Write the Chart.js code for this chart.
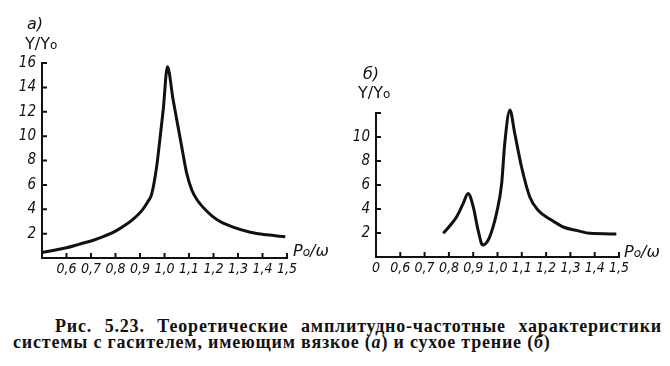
<!DOCTYPE html>
<html>
<head>
<meta charset="utf-8">
<script src="https://cdn.jsdelivr.net/npm/chart.js@4"></script>
<style>
  body { margin: 0; background: #fff; }
  #wrap { position: relative; width: 670px; height: 366px; overflow: hidden; background: #fff; }
  canvas { position: absolute; top: 0; }
  .lbl { position: absolute; font-family: "DejaVu Sans", sans-serif; font-size: 16px; line-height: 16px; color: #111; white-space: nowrap; }
  .it { font-style: italic; }
  .sm { font-size: 12px; }
  .cap { position: absolute; font-family: "Liberation Serif", serif; font-weight: bold; font-size: 18px; line-height: 18px; letter-spacing: 0.8px; color: #111; white-space: nowrap; }
</style>
</head>
<body>
<div id="wrap">
  <canvas id="grafA" width="335" height="290" style="left:0"></canvas>
  <canvas id="grafB" width="335" height="290" style="left:335px"></canvas>

  <div class="lbl it" style="left:27px; top:16px">а)</div>
  <div class="lbl" style="left:25px; top:36px">Y/Y<span class="sm">o</span></div>
  <div class="lbl it" style="left:293px; top:243px">P<span class="sm">o</span>/ω</div>

  <div class="lbl it" style="left:363px; top:66px">б)</div>
  <div class="lbl" style="left:358px; top:85px">Y/Y<span class="sm">o</span></div>
  <div class="lbl it" style="left:624px; top:244px">P<span class="sm">o</span>/ω</div>

  <div class="cap" style="left:55px; top:317px; width:607px; text-align:justify; text-align-last:justify">Рис. 5.23. Теоретические амплитудно-частотные характеристики</div>
  <div class="cap" style="left:13px; top:333px">системы с гасителем, имеющим вязкое (<i>а</i>) и сухое трение (<i>б</i>)</div>
</div>

<script>
// а) вязкое трение
const ratioA = [0.50, 0.55, 0.60, 0.65, 0.71, 0.75, 0.80, 0.84, 0.87, 0.91, 0.933, 0.947, 0.968, 0.981, 0.995, 1.012, 1.035, 1.055, 1.075, 1.09, 1.111, 1.132, 1.173, 1.213, 1.28, 1.35, 1.418, 1.493];
const ampA = [0.45, 0.64, 0.84, 1.12, 1.46, 1.75, 2.2, 2.7, 3.15, 3.95, 4.66, 5.2, 7.5, 9.7, 12.2, 15.7, 13.0, 10.8, 8.6, 7.0, 5.6, 4.8, 3.84, 3.16, 2.53, 2.12, 1.9, 1.74];

// б) сухое трение
const ratioB = [0.777, 0.81, 0.832, 0.859, 0.879, 0.90, 0.92, 0.939, 0.962, 0.98, 0.996, 1.017, 1.03, 1.051, 1.071, 1.099, 1.133, 1.167, 1.22, 1.27, 1.33, 1.38, 1.489];
const ampB = [1.97, 2.75, 3.36, 4.47, 5.3, 4.2, 2.25, 1.0, 1.42, 2.4, 3.64, 6.1, 9.5, 12.25, 10.3, 7.5, 5.0, 3.9, 3.1, 2.5, 2.2, 1.97, 1.92];

const xTicks = [0.5, 0.6, 0.7, 0.8, 0.9, 1.0, 1.1, 1.2, 1.3, 1.4, 1.5];
const xLabelsA = ['', '0,6', '0,7', '0,8', '0,9', '1,0', '1,1', '1,2', '1,3', '1,4', '1,5'];
const xLabelsB = ['0', '0,6', '0,7', '0,8', '0,9', '1,0', '1,1', '1,2', '1,3', '1,4', '1,5'];
const yTicksA = [0, 2, 4, 6, 8, 10, 12, 14, 16];
const yLabelsA = ['', '2', '4', '6', '8', '10', '12', '14', '16'];
const yTicksB = [0, 2, 4, 6, 8, 10, 12];
const yLabelsB = ['', '2', '4', '6', '8', '10', ''];

const fuenteTicks = { family: "'DejaVu Sans Condensed', 'DejaVu Sans', sans-serif", size: 14, style: 'italic' };

// marcas de ticks hacia adentro
const ticksAdentro = {
  id: 'ticksAdentro',
  afterDraw(chart) {
    const ctx = chart.ctx;
    const sx = chart.scales.x;
    const sy = chart.scales.y;
    ctx.save();
    ctx.strokeStyle = '#111';
    ctx.lineWidth = 2;
    ctx.beginPath();
    sx.ticks.forEach((t, i) => {
      if (i === 0) return;
      const px = sx.getPixelForTick(i);
      ctx.moveTo(px, sx.top);
      ctx.lineTo(px, sx.top - 5);
    });
    sy.ticks.forEach((t, i) => {
      if (i === 0) return;
      const py = sy.getPixelForTick(i);
      ctx.moveTo(sy.right, py);
      ctx.lineTo(sy.right + 5, py);
    });
    ctx.stroke();
    ctx.restore();
  }
};

const crearGrafico = (canvas, ratios, amps, cfg) => {
  const puntos = ratios.map((r, i) => ({ x: r, y: amps[i] }));
  return new Chart(canvas, {
    type: 'line',
    data: {
      datasets: [{
        data: puntos,
        borderColor: '#111',
        borderWidth: 3,
        pointRadius: 0,
        fill: false,
        cubicInterpolationMode: 'monotone',
        clip: false
      }]
    },
    options: {
      responsive: false,
      animation: false,
      devicePixelRatio: 1,
      layout: { padding: cfg.padding },
      plugins: { legend: { display: false }, tooltip: { enabled: false } },
      scales: {
        x: {
          type: 'linear',
          min: 0.5,
          max: 1.5,
          afterBuildTicks: (s) => { s.ticks = xTicks.map((v) => ({ value: v })); },
          afterFit: (s) => { s.height = cfg.xHeight; },
          grid: { display: false, drawTicks: false, tickLength: 0 },
          border: { display: true, color: '#111', width: 2 },
          ticks: {
            autoSkip: false,
            maxRotation: 0,
            padding: 3,
            color: '#111',
            font: fuenteTicks,
            callback: (v, i) => cfg.xLabels[i]
          }
        },
        y: {
          type: 'linear',
          min: 0,
          max: cfg.yMax,
          afterBuildTicks: (s) => { s.ticks = cfg.yTicks.map((v) => ({ value: v })); },
          afterFit: (s) => { s.width = cfg.yWidth; },
          grid: { display: false, drawTicks: false, tickLength: 0 },
          border: { display: true, color: '#111', width: 2 },
          ticks: {
            padding: 6,
            color: '#111',
            font: { ...fuenteTicks, size: 15 },
            callback: (v, i) => cfg.yLabels[i]
          }
        }
      }
    },
    plugins: [ticksAdentro]
  });
};

crearGrafico(document.querySelector('#grafA'), ratioA, ampA, {
  padding: { top: 63, right: 48, bottom: 0, left: 0 },
  xHeight: 32, yWidth: 42, yMax: 16,
  xLabels: xLabelsA, yTicks: yTicksA, yLabels: yLabelsA
});

crearGrafico(document.querySelector('#grafB'), ratioB, ampB, {
  padding: { top: 113, right: 51, bottom: 0, left: 0 },
  xHeight: 33, yWidth: 41, yMax: 12,
  xLabels: xLabelsB, yTicks: yTicksB, yLabels: yLabelsB
});
</script>
</body>
</html>
